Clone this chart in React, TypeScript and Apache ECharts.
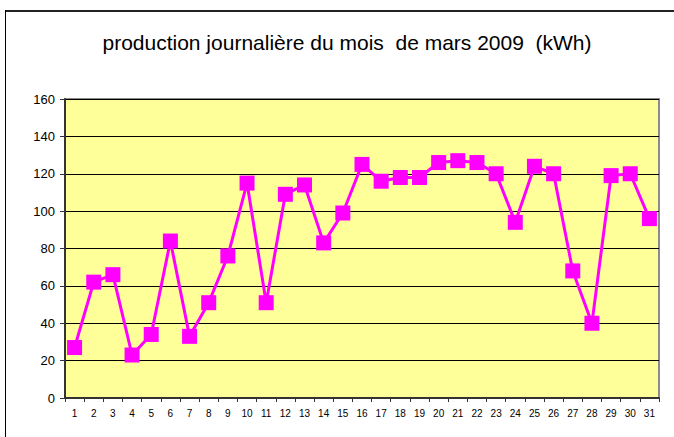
import React, { useEffect, useRef } from "react";
import * as echarts from "echarts";

const days: string[] = Array.from({ length: 31 }, (_, i) => String(i + 1));
const production: number[] = [
  27, 62, 66, 23, 34, 84, 33, 51, 76, 115, 51, 109, 114, 83, 99, 125,
  116, 118, 118, 126, 127, 126, 120, 94, 124, 120, 68, 40, 119, 120, 96,
];
const titleText = "production journalière du mois  de mars 2009  (kWh)";

export default function App() {
  const ref = useRef<HTMLDivElement>(null);
  useEffect(() => {
    if (!ref.current) return;
    const chart = echarts.init(ref.current, undefined, { renderer: "svg" });
    chart.setOption({
      animation: false,
      backgroundColor: "#ffffff",
      title: {
        text: titleText,
        left: 342,
        textAlign: "center",
        top: 27,
        textStyle: {
          fontFamily: "Liberation Sans, Arial, sans-serif",
          fontSize: 21,
          fontWeight: "normal",
          color: "#000",
        },
      },
      graphic: [
        { type: "line", shape: { x1: 5, y1: 11, x2: 680, y2: 11 }, style: { stroke: "#222", lineWidth: 2 } },
        { type: "line", shape: { x1: 5.5, y1: 10, x2: 5.5, y2: 440 }, style: { stroke: "#000", lineWidth: 1 } },
      ],
      grid: {
        left: 65,
        top: 99,
        right: 15,
        bottom: 39,
        show: true,
        backgroundColor: "#FFFF99",
        borderColor: "#8c8c8c",
        borderWidth: 2,
      },
      xAxis: {
        type: "category",
        data: days,
        boundaryGap: true,
        axisLine: { lineStyle: { color: "#333", width: 2 } },
        axisTick: { show: true, length: 4, lineStyle: { color: "#333" } },
        axisLabel: {
          color: "#000",
          fontSize: 10,
          fontFamily: "Liberation Sans, Arial, sans-serif",
          margin: 10,
          interval: 0,
        },
        splitLine: { show: false },
      },
      yAxis: {
        type: "value",
        min: 0,
        max: 160,
        interval: 20,
        axisLine: { show: true, lineStyle: { color: "#333", width: 2 } },
        axisTick: { show: true, length: 5, lineStyle: { color: "#333" } },
        axisLabel: {
          color: "#000",
          fontSize: 13,
          fontFamily: "Liberation Sans, Arial, sans-serif",
          margin: 10,
        },
        splitLine: { show: true, lineStyle: { color: "#000", width: 1 } },
      },
      series: [
        {
          type: "line",
          data: production,
          symbol: "rect",
          symbolSize: 15,
          lineStyle: { color: "#FF00FF", width: 3 },
          itemStyle: { color: "#FF00FF" },
        },
      ],
    });
    return () => chart.dispose();
  }, []);
  return (
    <div
      ref={ref}
      style={{ position: "fixed", left: 0, top: 0, width: 674, height: 437 }}
    />
  );
}
